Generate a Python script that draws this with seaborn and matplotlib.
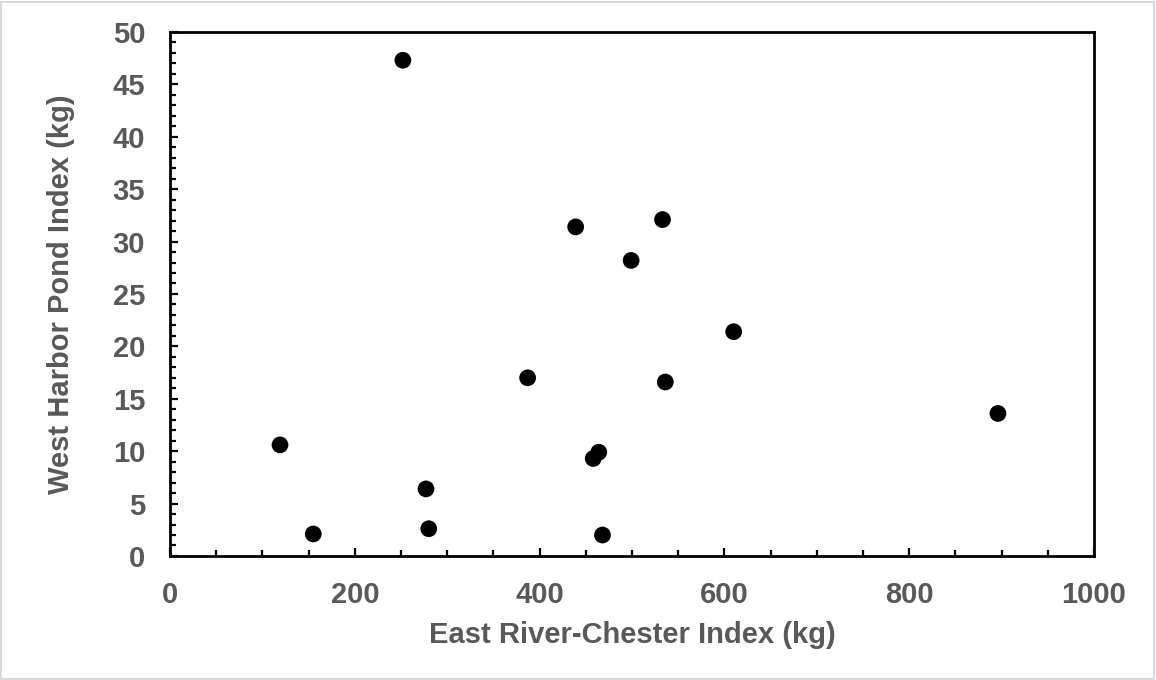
import matplotlib
matplotlib.use("Agg")
import matplotlib.pyplot as plt
from matplotlib.patches import Rectangle
from matplotlib.ticker import MultipleLocator
import seaborn as sns
import pandas as pd

# Paired annual index values (kg)
east_river_chester = [252, 439, 533, 499, 387, 610, 536, 896, 119, 464, 458, 468, 155, 277, 280]
west_harbor_pond = [47.3, 31.4, 32.1, 28.2, 17.0, 21.4, 16.6, 13.6, 10.6, 9.9, 9.3, 2.0, 2.1, 6.4, 2.6]

x_label = "East River-Chester Index (kg)"
y_label = "West Harbor Pond Index (kg)"

df = pd.DataFrame({"x": east_river_chester, "y": west_harbor_pond})

sns.set_style("white")
plt.rcParams["font.family"] = ["Liberation Sans", "DejaVu Sans"]

text_color = "#595959"
fig = plt.figure(figsize=(11.56, 6.8), dpi=100)
ax = fig.add_axes([0.1471, 0.1824, 0.7993, 0.7706])

sns.scatterplot(data=df, x="x", y="y", ax=ax, color="black", s=145,
                edgecolor="none", linewidth=0, zorder=3)

ax.set_xlim(0, 1000)
ax.set_ylim(0, 50)
ax.xaxis.set_major_locator(MultipleLocator(200))
ax.xaxis.set_minor_locator(MultipleLocator(50))
ax.yaxis.set_major_locator(MultipleLocator(5))
ax.yaxis.set_minor_locator(MultipleLocator(1))

for sp in ax.spines.values():
    sp.set_visible(True)
    sp.set_color("black")
    sp.set_linewidth(2)

ax.tick_params(which="both", direction="in", color="black", width=1.6)
ax.tick_params(which="major", length=5.5, labelsize=21, labelcolor=text_color, pad=18)
ax.tick_params(which="minor", length=4.5)
ax.tick_params(axis="x", which="both", bottom=True, top=False)
ax.tick_params(axis="y", which="both", left=True, right=False)
for lbl in ax.get_xticklabels() + ax.get_yticklabels():
    lbl.set_fontweight("bold")

ax.set_xlabel(x_label, fontsize=21, fontweight="bold", color=text_color, labelpad=9)
ax.set_ylabel(y_label, fontsize=21, fontweight="bold", color=text_color, labelpad=27)

fig.patches.append(Rectangle((0.001, 0.002), 0.997, 0.995, transform=fig.transFigure,
                             fill=False, edgecolor="#d9d9d9", linewidth=1.5))

fig.savefig("out.png", dpi=100, facecolor="white")
